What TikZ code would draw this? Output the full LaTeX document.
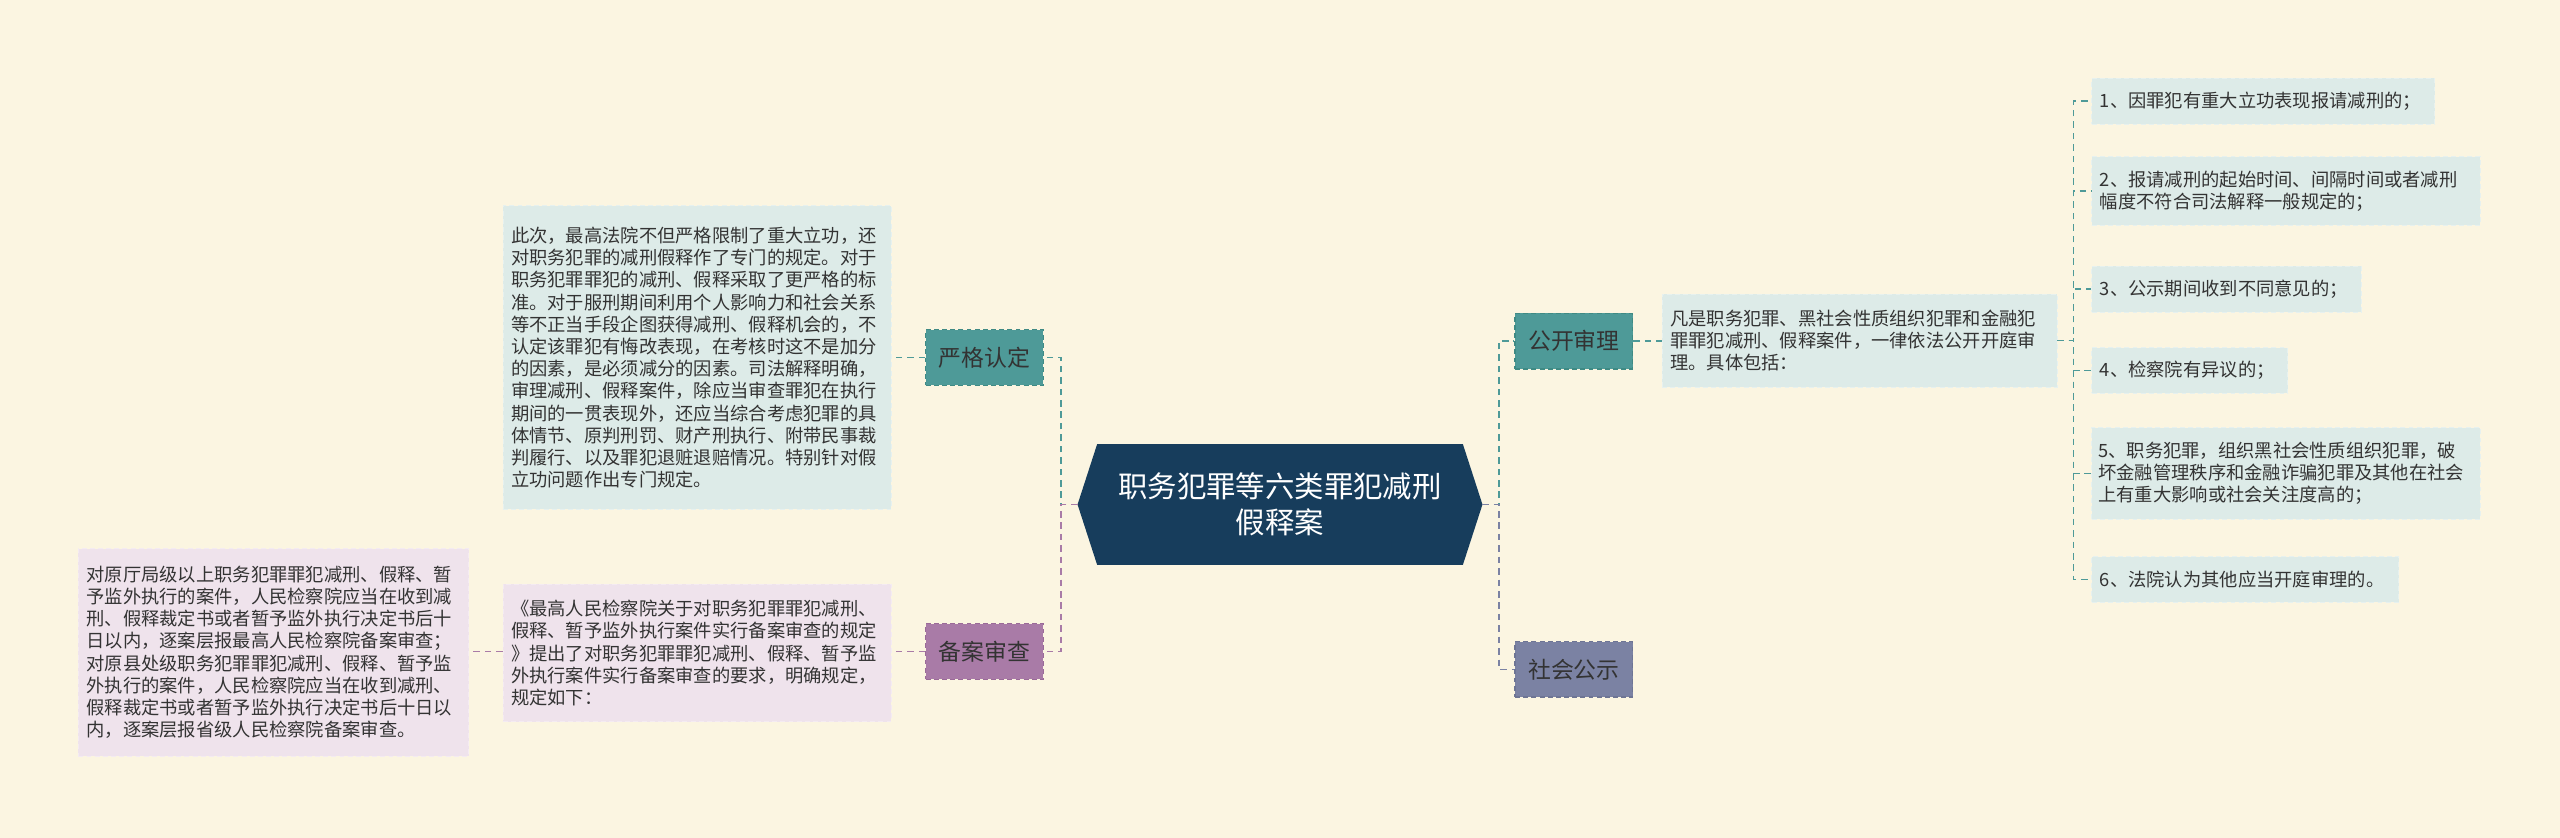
\documentclass[tikz,border=0pt]{standalone}
\usepackage{fontspec}
\setmainfont{Noto Sans CJK SC}
\usetikzlibrary{calc}
\definecolor{bg}{HTML}{FBF5E1}
\definecolor{navy}{HTML}{173D5C}
\definecolor{teal1}{HTML}{4E9A98}
\definecolor{teall}{HTML}{3F8A84}
\definecolor{purp}{HTML}{A97BA7}
\definecolor{purpl}{HTML}{9A6A98}
\definecolor{slate}{HTML}{7B82A3}
\definecolor{slatel}{HTML}{6E7594}
\definecolor{pale}{HTML}{DDEBE8}
\definecolor{pink}{HTML}{EFE3EC}
\definecolor{txt}{HTML}{333333}
\begin{document}
\begin{tikzpicture}[x=1pt,y=-1pt,
  tbox/.style={draw=#1!70!white, dashed, dash pattern=on 3pt off 2pt, line width=0.4pt, inner sep=0pt, align=left, text=txt, font=\fontsize{11.2}{13.6}\selectfont},
  tbox/.default=pale,
  cat/.style={draw=#1, dashed, dash pattern=on 3pt off 2pt, line width=0.8pt, minimum width=72pt, minimum height=34pt, inner sep=0pt, text=txt, font=\fontsize{14}{16}\selectfont},
  lk/.style={draw=#1, dashed, dash pattern=on 4pt off 3pt, line width=1pt}]
\fill[bg] (0,0) rectangle (1568,513);
\useasboundingbox (0,0) rectangle (1568,513);
% center
\fill[navy] (672,272) -- (896,272) -- (908,309) -- (896,346) -- (672,346) -- (660,309) -- cycle;
\node[text=white, align=center, font=\fontsize{18}{22}\selectfont] (c) at (784,309) {职务犯罪等六类罪犯减刑\\假释案};
\coordinate (cl) at (660,309);
\coordinate (cr) at (908,309);
% left categories
\node[cat=teall, fill=teal1] (a) at (603,219) {严格认定};
\node[cat=purpl, fill=purp] (b) at (603,399) {备案审查};
\node[tbox=pale, fill=pale, minimum width=238pt, minimum height=186pt, text width=228pt] (t1) at (427,219) {此次，最高法院不但严格限制了重大立功，还\\对职务犯罪的减刑假释作了专门的规定。对于\\职务犯罪罪犯的减刑、假释采取了更严格的标\\准。对于服刑期间利用个人影响力和社会关系\\等不正当手段企图获得减刑、假释机会的，不\\认定该罪犯有悔改表现，在考核时这不是加分\\的因素，是必须减分的因素。司法解释明确，\\审理减刑、假释案件，除应当审查罪犯在执行\\期间的一贯表现外，还应当综合考虑犯罪的具\\体情节、原判刑罚、财产刑执行、附带民事裁\\判履行、以及罪犯退赃退赔情况。特别针对假\\立功问题作出专门规定。};
\node[tbox=pink, fill=pink, minimum width=238pt, minimum height=84pt, text width=228pt] (t2) at (427,400) {《最高人民检察院关于对职务犯罪罪犯减刑、\\假释、暂予监外执行案件实行备案审查的规定\\》提出了对职务犯罪罪犯减刑、假释、暂予监\\外执行案件实行备案审查的要求，明确规定，\\规定如下：};
\node[tbox=pink, fill=pink, minimum width=239pt, minimum height=127pt, text width=229pt] (t3) at (167.5,399.5) {对原厅局级以上职务犯罪罪犯减刑、假释、暂\\予监外执行的案件，人民检察院应当在收到减\\刑、假释裁定书或者暂予监外执行决定书后十\\日以内，逐案层报最高人民检察院备案审查；\\对原县处级职务犯罪罪犯减刑、假释、暂予监\\外执行的案件，人民检察院应当在收到减刑、\\假释裁定书或者暂予监外执行决定书后十日以\\内，逐案层报省级人民检察院备案审查。};
\draw[lk=teal1] (cl) -- (650,309) -- (650,219) -- (a.east);
\draw[lk=purp] (cl) -- (650,309) -- (650,399) -- (b.east);
\draw[lk=teal1] (a.west) -- (t1.east |- a.west);
\draw[lk=purp] (b.west) -- (t2.east |- b.west);
\draw[lk=purp] (t2.west |- b.west) -- (t3.east |- b.west);
% right categories
\node[cat=teall, fill=teal1] (d) at (964,209) {公开审理};
\node[cat=slatel, fill=slate] (e) at (964,410) {社会公示};
\draw[lk=teal1] (cr) -- (918,309) -- (918,209) -- (d.west);
\draw[lk=slate] (cr) -- (918,309) -- (918,410) -- (e.west);
\node[tbox=pale, fill=pale, minimum width=242pt, minimum height=57pt, text width=232pt] (t4) at (1139,208.5) {凡是职务犯罪、黑社会性质组织犯罪和金融犯\\罪罪犯减刑、假释案件，一律依法公开开庭审\\理。具体包括：};
\draw[lk=teal1] (d.east) -- (t4.west |- d.east);
\node[tbox=pale, fill=pale, anchor=west, minimum width=210pt, minimum height=28pt, text width=200pt] (r1) at (1281,62) {1、因罪犯有重大立功表现报请减刑的；};
\node[tbox=pale, fill=pale, anchor=west, minimum width=238pt, minimum height=42pt, text width=228pt] (r2) at (1281,117) {2、报请减刑的起始时间、间隔时间或者减刑\\幅度不符合司法解释一般规定的；};
\node[tbox=pale, fill=pale, anchor=west, minimum width=165pt, minimum height=28pt, text width=155pt] (r3) at (1281,177) {3、公示期间收到不同意见的；};
\node[tbox=pale, fill=pale, anchor=west, minimum width=120pt, minimum height=28pt, text width=110pt] (r4) at (1281,227) {4、检察院有异议的；};
\node[tbox=pale, fill=pale, anchor=west, minimum width=238pt, minimum height=56pt, text width=230pt] (r5) at (1281,290) {5、职务犯罪，组织黑社会性质组织犯罪，破\\坏金融管理秩序和金融诈骗犯罪及其他在社会\\上有重大影响或社会关注度高的；};
\node[tbox=pale, fill=pale, anchor=west, minimum width=188pt, minimum height=28pt, text width=178pt] (r6) at (1281,355) {6、法院认为其他应当开庭审理的。};
\foreach \r in {r1,r2,r3,r4,r5,r6}
  \draw[lk=teal1] (t4.east) -- (1270,208.5) -- (1270,0 |- \r.west) -- (\r.west);
\end{tikzpicture}
\end{document}
